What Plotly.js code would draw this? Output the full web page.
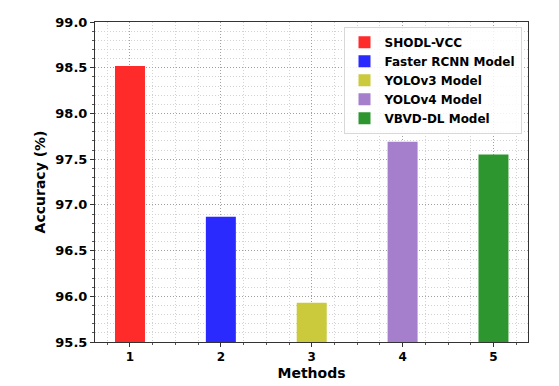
<!DOCTYPE html>
<html><head><meta charset="utf-8">
<script src="https://cdn.plot.ly/plotly-3.0.1.min.js"></script>
<style>html,body{margin:0;padding:0;background:#fff}</style>
</head><body>
<div id="chart" style="width:559px;height:386px"></div>
<script>
const methods = [1, 2, 3, 4, 5];
const names = ["SHODL-VCC", "Faster RCNN Model", "YOLOv3 Model", "YOLOv4 Model", "VBVD-DL Model"];
const accuracy = [98.52, 96.87, 95.93, 97.69, 97.55];
const colors = ["#ff2a2a", "#2a2aff", "#caca3c", "#a67fcc", "#2e962e"];
const yBase = 95.5;

const traces = methods.map((m, i) => ({
  type: "bar",
  x: [m],
  y: [accuracy[i] - yBase],
  base: yBase,
  name: names[i],
  width: 0.33,
  marker: {color: colors[i], line: {width: 0}},
  hoverinfo: "skip"
}));

const layout = {
  width: 559, height: 386,
  margin: {l: 95, r: 31, t: 22, b: 44},
  paper_bgcolor: "#fff", plot_bgcolor: "#fff",
  showlegend: true,
  barmode: "overlay",
  font: {family: "DejaVu Sans", size: 12, color: "#000"},
  xaxis: {
    range: [0.615, 5.38],
    tickvals: methods, ticktext: methods.map(String),
    tickfont: {family: "DejaVu Sans", size: 12, weight: "bold", color: "#000"},
    ticks: "outside", ticklen: 4, tickcolor: "#333",
    showline: true, linecolor: "#333", linewidth: 1, mirror: true,
    showgrid: true, gridcolor: "#a0a0a0", griddash: "1px,2px", gridwidth: 1,
    zeroline: false,
    minor: {dtick: 0.25, tick0: 0, ticks: "outside", ticklen: 2, tickcolor: "#555", showgrid: true, gridcolor: "#d2d2d2", griddash: "1px,2px", gridwidth: 1},
    title: {text: "Methods", font: {family: "DejaVu Sans", size: 14, weight: "bold", color: "#000"}, standoff: 4}
  },
  yaxis: {
    range: [95.5, 99.0],
    tickvals: [95.5, 96.0, 96.5, 97.0, 97.5, 98.0, 98.5, 99.0],
    ticktext: ["95.5", "96.0", "96.5", "97.0", "97.5", "98.0", "98.5", "99.0"],
    tickfont: {family: "DejaVu Sans", size: 13, weight: "bold", color: "#000"},
    ticks: "outside", ticklen: 4, tickcolor: "#333",
    showline: true, linecolor: "#333", linewidth: 1, mirror: true,
    showgrid: true, gridcolor: "#a0a0a0", griddash: "1px,2px", gridwidth: 1,
    zeroline: false,
    minor: {dtick: 0.1, tick0: 95.5, ticks: "outside", ticklen: 2, tickcolor: "#555", showgrid: true, gridcolor: "#d2d2d2", griddash: "1px,2px", gridwidth: 1},
    title: {text: "Accuracy (%)", font: {family: "DejaVu Sans", size: 14, weight: "bold", color: "#000"}, standoff: 6}
  },
  legend: {
    x: 0.985, y: 0.985, xanchor: "right", yanchor: "top",
    bgcolor: "rgba(255,255,255,0.85)", bordercolor: "#d8d8d8", borderwidth: 1,
    font: {family: "DejaVu Sans", size: 12, weight: "bold", color: "#000"},
    tracegroupgap: 0, itemwidth: 30
  }
};
Plotly.newPlot("chart", traces, layout, {displayModeBar: false, staticPlot: true});
</script>
</body></html>
